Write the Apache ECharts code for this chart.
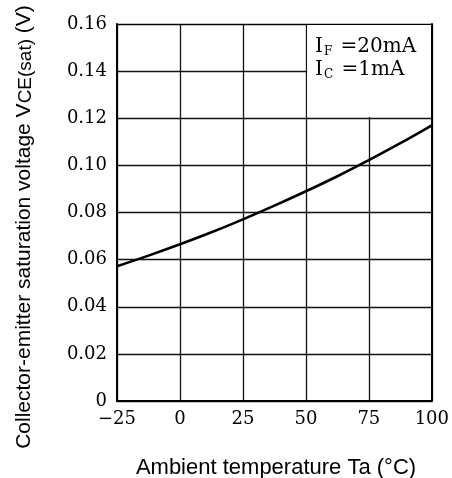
<!DOCTYPE html>
<html>
<head>
<meta charset="utf-8">
<script src="https://cdn.jsdelivr.net/npm/echarts@6/dist/echarts.min.js"></script>
<style>
  html, body { margin: 0; padding: 0; background: #fff; }
  #chart { width: 452px; height: 478px; }
</style>
</head>
<body>
<div id="chart"></div>
<script>
// ambient temperature (°C) and VCE(sat) (V)
const temps = [-25, -12.5, 0, 12.5, 25, 37.5, 50, 62.5, 75, 87.5, 100]
const vce = [0.0572, 0.0617, 0.0665, 0.0716, 0.0771, 0.0829, 0.089, 0.0954, 0.1022, 0.1094, 0.117]
const xTicks = [-25, 0, 25, 50, 75, 100]
const yTicks = [0, 0.02, 0.04, 0.06, 0.08, 0.10, 0.12, 0.14, 0.16]

const serif = '"DejaVu Serif", "Liberation Serif", serif'
const sans = '"Liberation Sans", Arial, sans-serif'

var myChart = echarts.init(document.getElementById('chart'))
myChart.setOption({
  animation: false,
  grid: { left: 117, right: 17, top: 24, bottom: 77 },
  xAxis: [{
    type: 'value',
    min: xTicks[0],
    max: xTicks[xTicks.length - 1],
    interval: 25,
    axisLine: { onZero: false, lineStyle: { color: '#000', width: 2 } },
    axisTick: { show: false },
    axisLabel: {
      margin: 9,
      color: '#000',
      fontFamily: serif,
      fontSize: 18,
      formatter: v => (v < 0 ? '\u2212' + Math.abs(v) : String(v))
    },
    splitLine: { lineStyle: { color: '#111', width: 1.3 } }
  }, {
    // top frame line
    type: 'value',
    position: 'top',
    min: xTicks[0],
    max: xTicks[xTicks.length - 1],
    z: 5,
    axisLine: { show: true, onZero: false, lineStyle: { color: '#000', width: 1.2 } },
    axisTick: { show: false },
    axisLabel: { show: false },
    splitLine: { show: false }
  }],
  yAxis: [{
    type: 'value',
    min: yTicks[0],
    max: yTicks[yTicks.length - 1],
    interval: 0.02,
    axisLine: { show: true, onZero: false, lineStyle: { color: '#000', width: 2 } },
    axisTick: { show: false },
    axisLabel: {
      margin: 10,
      color: '#000',
      fontFamily: serif,
      fontSize: 18,
      formatter: v => (v === 0 ? '0' : v.toFixed(2))
    },
    splitLine: { lineStyle: { color: '#111', width: 1.3 } }
  }, {
    // right frame line
    type: 'value',
    position: 'right',
    min: yTicks[0],
    max: yTicks[yTicks.length - 1],
    z: 5,
    axisLine: { show: true, onZero: false, lineStyle: { color: '#000', width: 2 } },
    axisTick: { show: false },
    axisLabel: { show: false },
    splitLine: { show: false }
  }],
  series: [{
    type: 'line',
    data: temps.map((t, i) => [t, vce[i]]),
    smooth: 0.4,
    showSymbol: false,
    lineStyle: { color: '#000', width: 2.6 },
    markArea: {
      silent: true,
      itemStyle: { color: '#fff', borderWidth: 0 },
      data: [[{ coord: [50.5, 0.1205] }, { coord: [100, 0.16] }]]
    }
  }],
  graphic: [{
    type: 'text',
    x: 24,
    y: 227,
    z: 20,
    rotation: Math.PI / 2,
    style: {
      text: 'Collector-emitter saturation voltage V{sub|CE(sat)} (V)',
      font: '21px ' + sans,
      fill: '#000',
      textAlign: 'center',
      textVerticalAlign: 'middle',
      rich: { sub: { fontSize: 19, fontFamily: sans, padding: [4, 0, 0, 0] } }
    }
  }, {
    type: 'text',
    x: 276,
    y: 468,
    z: 20,
    style: {
      text: 'Ambient temperature Ta (°C)',
      font: '22px ' + sans,
      fill: '#000',
      textAlign: 'center',
      textVerticalAlign: 'middle'
    }
  }, {
    type: 'text',
    x: 315,
    y: 47,
    z: 20,
    style: {
      text: 'I{sub|F} =20mA',
      font: '20px ' + serif,
      fill: '#000',
      textVerticalAlign: 'middle',
      rich: { sub: { fontSize: 12, fontFamily: serif, padding: [9, 2, 0, 1] } }
    }
  }, {
    type: 'text',
    x: 315,
    y: 70,
    z: 20,
    style: {
      text: 'I{sub|C} =1mA',
      font: '20px ' + serif,
      fill: '#000',
      textVerticalAlign: 'middle',
      rich: { sub: { fontSize: 12, fontFamily: serif, padding: [9, 2, 0, 1] } }
    }
  }]
})
</script>
</body>
</html>
